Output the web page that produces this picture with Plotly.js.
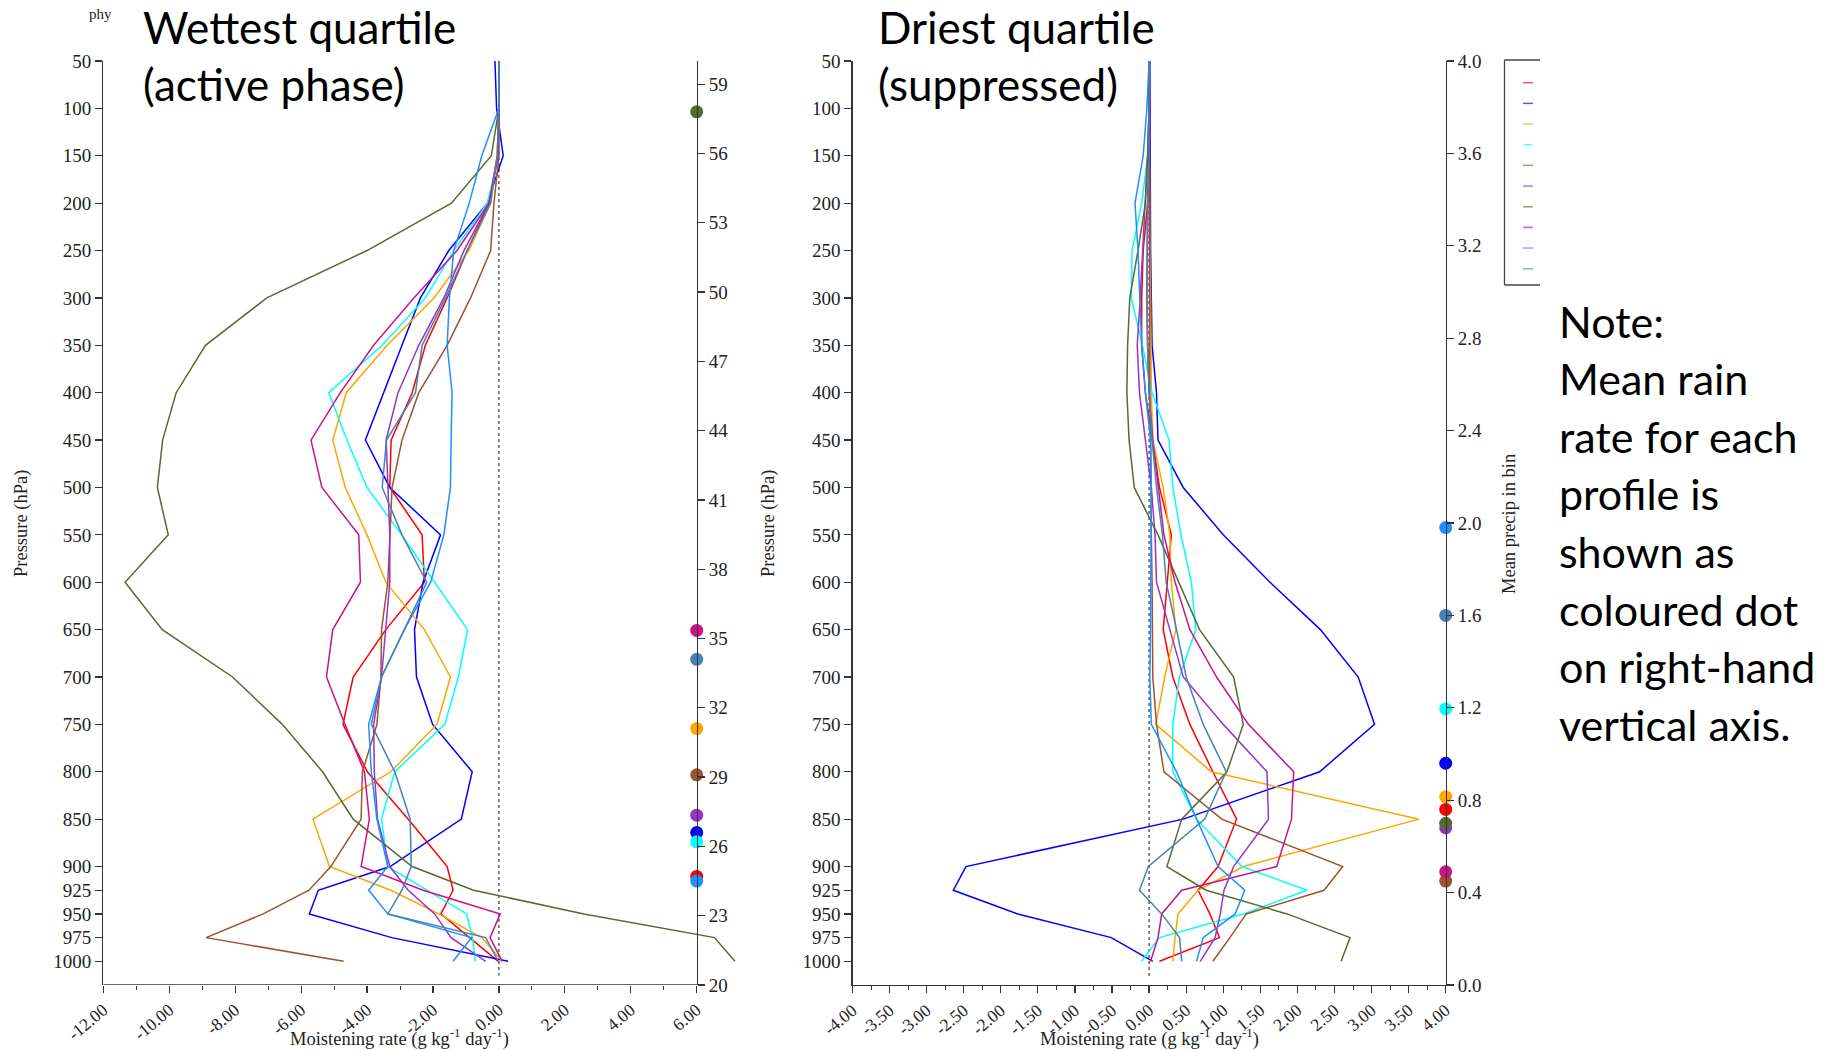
<!DOCTYPE html>
<html>
<head>
<meta charset="utf-8">
<script src="https://cdn.plot.ly/plotly-3.0.1.min.js"></script>
<style>
  html, body { margin: 0; padding: 0; background: #ffffff; }
  #chart { width: 1839px; height: 1050px; }
</style>
</head>
<body>
<div id="chart"></div>
<script>
// ---------------- DATA ----------------
const pressure = [50, 100, 150, 200, 250, 300, 350, 400, 450, 500, 550, 600, 650, 700, 750, 800, 850, 900, 925, 950, 975, 1000];

const seriesColors = ['#ff0000', '#0000ff', '#ffa500', '#00ffff', '#a0522d', '#9932cc', '#556b2f', '#c71585', '#1e90ff', '#4682b4'];

// Wettest quartile (active phase): moistening rate (g/kg/day) at each pressure level
const wetRed    = [0, 0, -0.05, -0.3, -0.96, -1.57, -2.23, -2.63, -3.27, -3.31, -2.33, -2.26, -3.43, -4.42, -4.73, -3.99, -2.75, -1.57, -1.39, -1.76, -0.89, -0.02];
const wetBlue   = [-0.12, -0.07, 0.13, -0.35, -1.52, -2.38, -2.94, -3.49, -4.05, -3.31, -1.77, -2.3, -2.56, -2.5, -2.01, -0.81, -1.14, -3.3, -5.48, -5.75, -3.25, 0.28];
const wetOrange = [0, 0, -0.05, -0.25, -0.91, -1.97, -3.39, -4.63, -5.04, -4.66, -4.0, -3.43, -2.26, -1.47, -1.88, -3.28, -5.64, -5.14, -3.28, -1.82, -0.52, 0.1];
const wetCyan   = [0, 0, 0, -0.35, -1.37, -2.23, -3.54, -5.16, -4.61, -4.0, -2.95, -1.95, -0.95, -1.23, -1.64, -3.16, -3.56, -3.37, -2.19, -0.98, -0.8, -0.71];
const wetBrown  = [0, 0, 0, -0.15, -0.25, -0.86, -1.57, -2.43, -2.94, -3.24, -3.31, -3.37, -3.56, -3.58, -3.7, -4.14, -4.18, -5.1, -5.76, -7.15, -8.88, -4.71];
const wetPurple = [0, 0, -0.03, -0.3, -1.06, -1.67, -2.43, -3.06, -3.42, -3.37, -3.31, -3.31, -3.43, -3.56, -3.8, -3.78, -3.68, -3.31, -2.75, -1.95, -1.45, -0.4];
const wetOlive  = [0, 0, -0.23, -1.44, -4.0, -7.04, -8.9, -9.79, -10.2, -10.36, -10.03, -11.34, -10.21, -8.08, -6.57, -5.35, -4.42, -2.63, -0.77, 2.58, 6.54, 7.16];
const wetPink   = [0, 0, -0.03, -0.3, -1.27, -2.58, -3.8, -4.81, -5.7, -5.37, -4.25, -4.2, -5.04, -5.23, -4.67, -4.08, -3.93, -4.18, -2.3, 0.04, -0.27, 0.1];
const wetDodger = [0, 0, -0.52, -0.9, -1.37, -1.5, -1.57, -1.42, -1.45, -1.47, -1.67, -2.07, -2.87, -3.56, -3.95, -3.87, -3.7, -3.37, -3.95, -3.37, -0.83, -1.39];
const wetSteel  = [0, 0, -0.05, -0.25, -0.96, -1.62, -2.33, -2.53, -3.41, -3.54, -2.94, -2.19, -2.87, -3.56, -3.87, -3.16, -2.69, -2.66, -2.94, -3.37, -0.4, -0.02];

// Driest quartile (suppressed)
const dryRed    = [0, 0, 0, -0.02, -0.08, -0.1, -0.1, -0.05, 0.05, 0.14, 0.3, 0.24, 0.19, 0.32, 0.55, 0.86, 1.18, 0.93, 0.66, 0.82, 0.95, 0.14];
const dryBlue   = [0.01, 0.01, 0.02, 0.02, 0.02, 0.03, 0.04, 0.1, 0.12, 0.46, 1.0, 1.63, 2.31, 2.82, 3.04, 2.3, 0.46, -2.47, -2.64, -1.77, -0.51, 0.05];
const dryOrange = [0, 0, 0, 0, 0.01, 0.02, 0.02, 0.03, 0.05, 0.19, 0.28, 0.3, 0.36, 0.21, 0.09, 0.84, 3.64, 1.27, 0.66, 0.39, 0.35, 0.32];
const dryCyan   = [0, 0, -0.02, -0.1, -0.23, -0.24, -0.09, 0.04, 0.27, 0.32, 0.43, 0.57, 0.63, 0.41, 0.32, 0.32, 0.64, 1.25, 2.13, 1.27, 0.14, -0.1];
const dryBrown  = [0, 0, 0, 0, 0.01, 0.01, 0.01, 0.01, 0.02, 0.02, 0.03, 0.04, 0.05, 0.05, 0.1, 0.2, 0.98, 2.61, 2.36, 1.31, 1.09, 0.86];
const dryPurple = [0, 0, -0.02, -0.05, -0.08, -0.12, -0.16, -0.13, -0.05, 0.03, 0.08, 0.1, 0.28, 0.46, 1.0, 1.59, 1.61, 1.14, 1.01, 0.96, 0.89, 0.69];
const dryOlive  = [0, 0, -0.02, -0.05, -0.15, -0.26, -0.29, -0.3, -0.27, -0.2, 0.12, 0.4, 0.68, 1.14, 1.27, 1.05, 0.44, 0.24, 0.77, 1.86, 2.71, 2.59];
const dryPink   = [0, 0, 0, -0.02, -0.03, -0.03, -0.02, 0, 0.05, 0.12, 0.2, 0.35, 0.55, 0.91, 1.34, 1.95, 1.92, 1.72, 0.44, 0.17, 0.12, 0.02];
const dryDodger = [0, -0.03, -0.08, -0.19, -0.15, -0.12, -0.1, -0.05, 0.02, 0.03, 0.03, 0.02, 0.02, 0.01, 0.03, 0.37, 0.64, 0.93, 1.29, 1.16, 0.73, 0.64];
const drySteel  = [0, 0, 0, -0.02, -0.03, -0.03, -0.02, 0, 0.04, 0.1, 0.18, 0.23, 0.37, 0.5, 0.73, 1.04, 0.75, -0.01, -0.13, 0.17, 0.41, 0.44];

// Mean precip in bin for each profile (same order as the colours)
const wetPrecip = [24.7, 26.6, 31.1, 26.2, 29.1, 27.35, 57.8, 35.35, 24.5, 34.1];
const dryPrecip = [0.76, 0.96, 0.815, 1.195, 0.45, 0.68, 0.70, 0.49, 1.98, 1.60];

// Tick values
const wetXTicks = [-12, -10, -8, -6, -4, -2, 0, 2, 4, 6];
const wetXMinor = [-11, -9, -7, -5, -3, -1, 1, 3, 5];
const dryXTicks = [-4, -3.5, -3, -2.5, -2, -1.5, -1, -0.5, 0, 0.5, 1, 1.5, 2, 2.5, 3, 3.5, 4];
const dryXMinor = [-3.75, -3.25, -2.75, -2.25, -1.75, -1.25, -0.75, -0.25, 0.25, 0.75, 1.25, 1.75, 2.25, 2.75, 3.25, 3.75];
const wetPrecipTicks = [20, 23, 26, 29, 32, 35, 38, 41, 44, 47, 50, 53, 56, 59];
const dryPrecipTicks = [0, 0.4, 0.8, 1.2, 1.6, 2.0, 2.4, 2.8, 3.2, 3.6, 4.0];

const wetSeries = [wetRed, wetBlue, wetOrange, wetCyan, wetBrown, wetPurple, wetOlive, wetPink, wetDodger, wetSteel];
const drySeries = [dryRed, dryBlue, dryOrange, dryCyan, dryBrown, dryPurple, dryOlive, dryPink, dryDodger, drySteel];

const noteLines = ['Note:', 'Mean rain', 'rate for each', 'profile is', 'shown as', 'coloured dot', 'on right-hand', 'vertical axis.'];

// ---------------- LAYOUT HELPERS ----------------
const W = 1839, H = 1050;
const px = x => x / W;
const py = y => 1 - y / H;

const wetXRange = [-12, 7.3];
const wetXAxisEnd = 6;
const dryXRange = [-4, 4];
const pRange = [1025, 50];

const leftPx0 = 103.3, leftPxAxisEnd = 696.7;
const unitW = (leftPxAxisEnd - leftPx0) / (wetXAxisEnd - wetXRange[0]);
const leftPx1 = leftPx0 + unitW * (wetXRange[1] - wetXRange[0]);
const yDom = [py(985), py(61)];

const serif = 'Liberation Serif, Times New Roman, serif';
const sans = 'Lato, Open Sans, sans-serif';
const axisCol = '#333333';

const yTickFont = { family: serif, size: 19, color: '#222' };
const xTickFont = { family: serif, size: 17.5, color: '#222' };

// ---------------- TRACES ----------------
const traces = [];
wetSeries.forEach((s, i) => {
  traces.push({ x: s, y: pressure, type: 'scatter', mode: 'lines', xaxis: 'x', yaxis: 'y',
    line: { color: seriesColors[i], width: 1.5 }, hoverinfo: 'skip' });
});
drySeries.forEach((s, i) => {
  traces.push({ x: s, y: pressure, type: 'scatter', mode: 'lines', xaxis: 'x2', yaxis: 'y3',
    line: { color: seriesColors[i], width: 1.5 }, hoverinfo: 'skip' });
});
// precip dots on right-hand axes
traces.push({ x: wetPrecip.map(() => wetXAxisEnd), y: wetPrecip, type: 'scatter', mode: 'markers',
  xaxis: 'x', yaxis: 'y2', cliponaxis: false,
  marker: { color: seriesColors, size: 13, line: { width: 0 } }, hoverinfo: 'skip' });
traces.push({ x: dryPrecip.map(() => dryXRange[1]), y: dryPrecip, type: 'scatter', mode: 'markers',
  xaxis: 'x2', yaxis: 'y4', cliponaxis: false,
  marker: { color: seriesColors, size: 13, line: { width: 0 } }, hoverinfo: 'skip' });

// ---------------- AXES ----------------
const common = { showgrid: false, zeroline: false, tickcolor: axisCol, tickwidth: 1.2, linecolor: axisCol, linewidth: 1.3 };

const layout = {
  width: W, height: H,
  margin: { l: 0, r: 0, t: 0, b: 0, pad: 0 },
  paper_bgcolor: '#ffffff', plot_bgcolor: 'rgba(0,0,0,0)',
  showlegend: false,
  font: { family: serif, size: 18, color: '#222' },
  xaxis: Object.assign({}, common, {
    domain: [px(leftPx0), px(leftPx1)], range: wetXRange, anchor: 'y', tickfont: xTickFont,
    tickmode: 'array', tickvals: wetXTicks, ticktext: wetXTicks.map(v => v.toFixed(2)),
    ticks: 'outside', ticklen: 7, tickangle: -40, showline: false,
    minor: { tickvals: wetXMinor, ticks: 'outside', ticklen: 4, tickcolor: axisCol, tickwidth: 1 }
  }),
  yaxis: Object.assign({}, common, {
    domain: yDom, range: pRange, anchor: 'x', tickfont: yTickFont,
    tickmode: 'array', tickvals: pressure, ticktext: pressure.map(String),
    ticks: 'outside', ticklen: 7, showline: true
  }),
  yaxis2: Object.assign({}, common, {
    overlaying: 'y', side: 'right', anchor: 'free', position: px(leftPxAxisEnd), tickfont: yTickFont,
    range: [20, 60], tickmode: 'array', tickvals: wetPrecipTicks, ticktext: wetPrecipTicks.map(String),
    ticks: 'outside', ticklen: 7, showline: true
  }),
  xaxis2: Object.assign({}, common, {
    domain: [px(852.5), px(1445.7)], range: dryXRange, anchor: 'y3', tickfont: xTickFont,
    tickmode: 'array', tickvals: dryXTicks, ticktext: dryXTicks.map(v => v.toFixed(2)),
    ticks: 'outside', ticklen: 7, tickangle: -40, showline: true,
    minor: { tickvals: dryXMinor, ticks: 'outside', ticklen: 4, tickcolor: axisCol, tickwidth: 1 }
  }),
  yaxis3: Object.assign({}, common, {
    domain: yDom, range: pRange, anchor: 'x2', tickfont: yTickFont,
    tickmode: 'array', tickvals: pressure, ticktext: pressure.map(String),
    ticks: 'outside', ticklen: 7, showline: true
  }),
  yaxis4: Object.assign({}, common, {
    overlaying: 'y3', side: 'right', anchor: 'x2', tickfont: yTickFont,
    range: [0, 4], tickmode: 'array', tickvals: dryPrecipTicks, ticktext: dryPrecipTicks.map(v => v.toFixed(1)),
    ticks: 'outside', ticklen: 7, showline: true
  }),
  shapes: [],
  annotations: []
};

// bottom axis line of left panel (stops at the right-hand precip axis)
layout.shapes.push({ type: 'line', xref: 'x', yref: 'y', x0: wetXRange[0], x1: wetXAxisEnd + 0.1, y0: pRange[0], y1: pRange[0],
  line: { color: axisCol, width: 1.3 } });
// dotted zero lines
layout.shapes.push({ type: 'line', xref: 'x', yref: 'y', x0: 0, x1: 0, y0: 50, y1: 1015,
  line: { color: '#444', width: 1.3, dash: 'dot' }, layer: 'below' });
layout.shapes.push({ type: 'line', xref: 'x2', yref: 'y3', x0: 0, x1: 0, y0: 50, y1: 1018,
  line: { color: '#444', width: 1.3, dash: 'dot' }, layer: 'below' });

// legend box (partially hidden behind the note text box)
const legL = 1504.5, legR = 1540, legT = 60, legB = 285;
layout.shapes.push({ type: 'line', xref: 'paper', yref: 'paper', x0: px(legL), x1: px(legR), y0: py(legT), y1: py(legT), line: { color: '#444', width: 1.3 } });
layout.shapes.push({ type: 'line', xref: 'paper', yref: 'paper', x0: px(legL), x1: px(legL), y0: py(legT), y1: py(legB), line: { color: '#444', width: 1.3 } });
layout.shapes.push({ type: 'line', xref: 'paper', yref: 'paper', x0: px(legL), x1: px(legR), y0: py(legB), y1: py(legB), line: { color: '#444', width: 1.3 } });
seriesColors.forEach((c, i) => {
  const yy = 82.7 + i * 20.67;
  layout.shapes.push({ type: 'line', xref: 'paper', yref: 'paper', x0: px(1523), x1: px(1533), y0: py(yy), y1: py(yy),
    line: { color: c, width: 1.5 }, opacity: 0.65 });
});

// ---------------- TEXT ----------------
const ann = (text, x, y, opts) => Object.assign({ text: text, x: px(x), y: py(y), xref: 'paper', yref: 'paper', showarrow: false }, opts);

layout.annotations.push(ann('phy', 87, 14, { xanchor: 'left', yanchor: 'middle', font: { family: serif, size: 15, color: '#222' } }));
layout.annotations.push(ann('Wettest quartile<br>(active phase)', 141, 55, { xanchor: 'left', yanchor: 'middle', align: 'left', font: { family: sans, size: 44, color: '#000' } }));
layout.annotations.push(ann('Driest quartile<br>(suppressed)', 876, 55, { xanchor: 'left', yanchor: 'middle', align: 'left', font: { family: sans, size: 44, color: '#000' } }));
noteLines.forEach((t, i) => {
  layout.annotations.push(ann(t, 1557, 321 + i * 57.6, { xanchor: 'left', yanchor: 'middle', align: 'left', font: { family: sans, size: 43, color: '#000' } }));
});

const titleFont = { family: serif, size: 18.5, color: '#222' };
layout.annotations.push(ann('Pressure (hPa)', 21, 524, { textangle: -90, xanchor: 'center', yanchor: 'middle', font: titleFont }));
layout.annotations.push(ann('Pressure (hPa)', 768, 524, { textangle: -90, xanchor: 'center', yanchor: 'middle', font: titleFont }));
layout.annotations.push(ann('Mean precip in bin', 1509, 524, { textangle: -90, xanchor: 'center', yanchor: 'middle', font: titleFont }));
layout.annotations.push(ann('Moistening rate (g kg<sup>-1</sup> day<sup>-1</sup>)', 399, 1037, { xanchor: 'center', yanchor: 'middle', font: titleFont }));
layout.annotations.push(ann('Moistening rate (g kg<sup>-1</sup> day<sup>-1</sup>)', 1149, 1037, { xanchor: 'center', yanchor: 'middle', font: titleFont }));

Plotly.newPlot('chart', traces, layout, { displayModeBar: false, staticPlot: true });
</script>
</body>
</html>
